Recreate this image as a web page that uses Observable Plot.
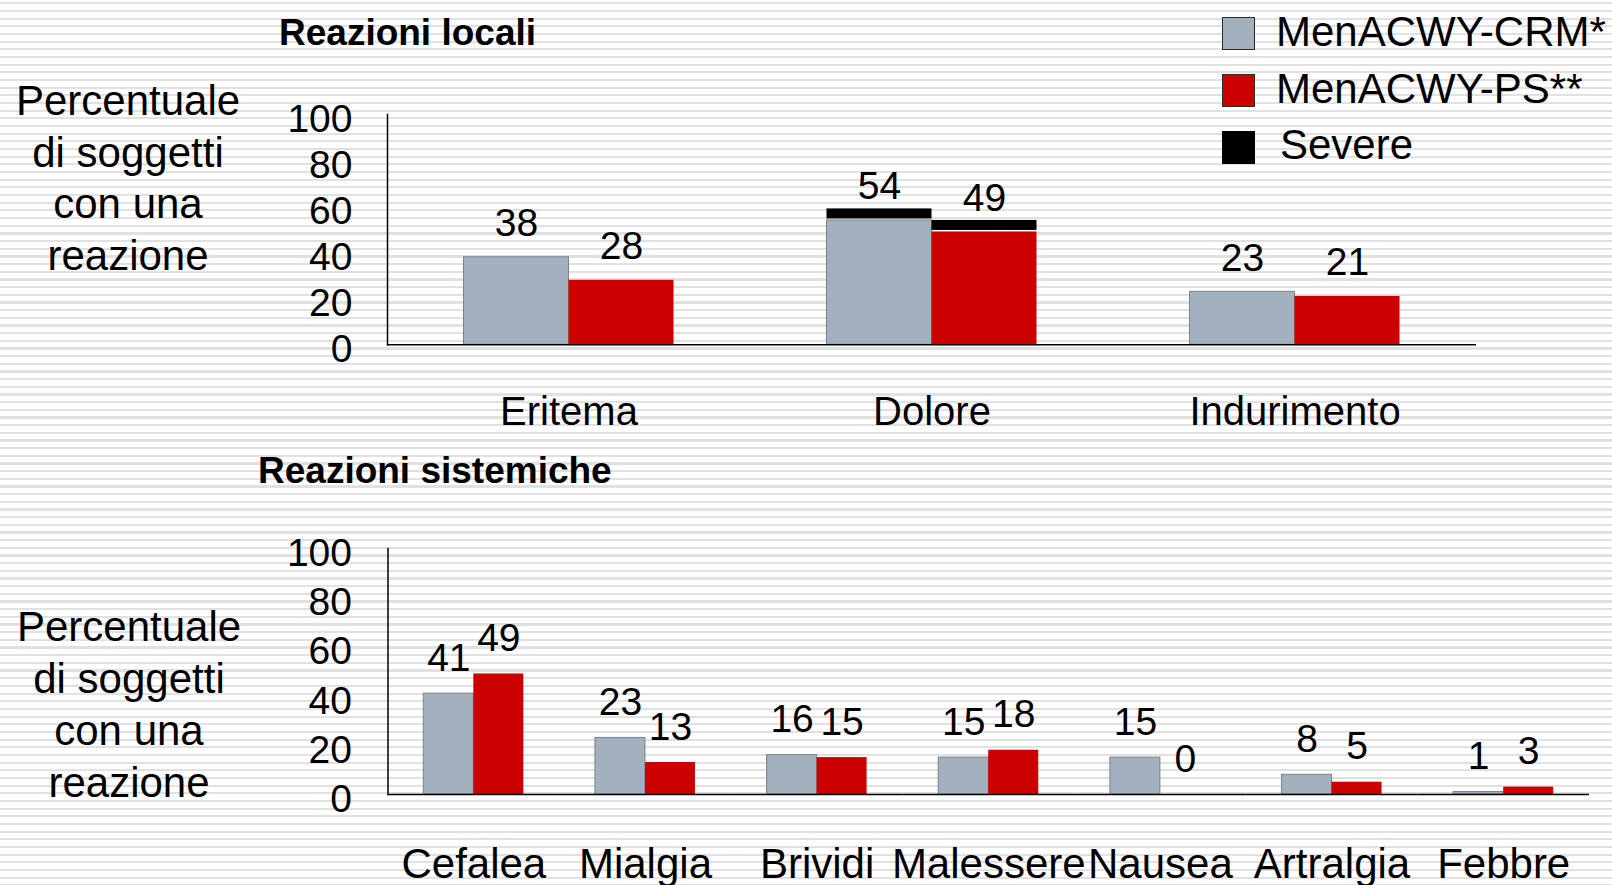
<!DOCTYPE html>
<html>
<head>
<meta charset="utf-8">
<script src="https://cdn.jsdelivr.net/npm/d3@7"></script>
<script src="https://cdn.jsdelivr.net/npm/@observablehq/plot@0.6"></script>
<style>
  html, body { margin: 0; padding: 0; }
  body {
    width: 1612px; height: 885px; overflow: hidden; position: relative;
    font-family: 'Liberation Sans', Arial, sans-serif; color: #000;
    background: repeating-linear-gradient(to bottom,
      #ffffff 0px, #ffffff 2.2px, #e1e1e1 2.2px, #e1e1e1 4.4px, #ffffff 4.4px, #ffffff 7.67px);
  }
  .abs { position: absolute; }
  .title { font-weight: bold; font-size: 37px; line-height: 1; white-space: nowrap; }
  .ytitle { font-size: 42px; text-align: center; width: 260px; }
  .leg-sq { position: absolute; width: 33px; height: 33px; box-sizing: border-box; }
  .leg-tx { position: absolute; font-size: 42px; line-height: 42px; white-space: nowrap; }
</style>
</head>
<body>
<div id="top" class="abs" style="left:0;top:0;"></div>
<div id="bottom" class="abs" style="left:0;top:440px;"></div>

<div class="abs title" style="left:279px;top:14px;">Reazioni locali</div>
<div class="abs title" style="left:258px;top:452px;">Reazioni sistemiche</div>

<div class="abs ytitle" style="left:-2px;top:75px;line-height:51.5px;">Percentuale<br>di soggetti<br>con una<br>reazione</div>
<div class="abs ytitle" style="left:-1px;top:601px;line-height:52px;">Percentuale<br>di soggetti<br>con una<br>reazione</div>

<div id="legend"></div>

<script>
// ---- data ----
const series = ["MenACWY-CRM*", "MenACWY-PS**"];
const severeLabel = "Severe";
const colors = ["#A3B0BE", "#CC0000"];

const localCats = ["Eritema", "Dolore", "Indurimento"];
const localCRM = [38, 54, 23];
const localPS = [28, 49, 21];
const localSevereCRM = [0, 5, 0];
const localSeverePS = [0, 5, 0];

const sysCats = ["Cefalea", "Mialgia", "Brividi", "Malessere", "Nausea", "Artralgia", "Febbre"];
const sysCRM = [41, 23, 16, 15, 15, 8, 1];
const sysPS = [49, 13, 15, 18, 0, 5, 3];

const yTicks = [0, 20, 40, 60, 80, 100];

// ---- build tables ----
function rowsFrom(cats, a, b, sa, sb) {
  const rows = [];
  cats.forEach((c, i) => {
    rows.push({cat: c, series: series[0], value: a[i], severe: sa ? sa[i] : 0});
    rows.push({cat: c, series: series[1], value: b[i], severe: sb ? sb[i] : 0});
  });
  return rows;
}
const localRows = rowsFrom(localCats, localCRM, localPS, localSevereCRM, localSeverePS);
const sysRows = rowsFrom(sysCats, sysCRM, sysPS);

const FONT = "'Liberation Sans', Arial, sans-serif";

function makeChart(rows, cats, cfg) {
  return Plot.plot({
    width: 1612,
    height: cfg.height,
    marginLeft: cfg.marginLeft,
    marginRight: cfg.marginRight,
    marginTop: cfg.marginTop,
    marginBottom: cfg.marginBottom,
    style: {background: "transparent", fontFamily: FONT, color: "#000", overflow: "visible"},
    fx: {domain: cats, paddingInner: 0, paddingOuter: 0, round: false, label: null},
    x: {domain: series, paddingInner: 0, paddingOuter: cfg.padOuter, round: false, axis: null},
    y: {domain: [0, 100], axis: null},
    marks: [
      Plot.barY(rows, {fx: "cat", x: "series", y: "value",
        filter: d => d.series === series[0], fill: colors[0], stroke: "#76828F", strokeWidth: 1}),
      Plot.barY(rows, {fx: "cat", x: "series", y: "value",
        filter: d => d.series === series[1], fill: colors[1]}),
      Plot.barY(rows, {fx: "cat", x: "series", y1: "value", y2: d => d.value + d.severe,
        filter: d => d.severe > 0, fill: "#000", insetBottom: 1.5}),
      Plot.text(rows, {fx: "cat", x: "series", y: "value", text: d => String(d.value),
        lineAnchor: "bottom", dy: cfg.valueDy, fontSize: cfg.valueSize, fill: "#000"}),
      Plot.ruleY([0], {stroke: "#000", strokeWidth: 1.5}),
      Plot.frame({anchor: "left", facetAnchor: "left", stroke: "#000", strokeWidth: 1.5}),
      Plot.axisY({ticks: yTicks, tickSize: 0, tickPadding: cfg.yPad, fontSize: cfg.tickSize,
        dy: 5, label: null, fill: "#000"}),
      Plot.axisFx({anchor: "bottom", tickSize: 0, tickPadding: cfg.catPad, fontSize: cfg.catSize,
        label: null, fill: "#000"})
    ]
  });
}

document.getElementById("top").appendChild(makeChart(localRows, localCats, {
  height: 440, marginLeft: 387, marginRight: 136, marginTop: 114, marginBottom: 95.7,
  padOuter: 0.7286, valueSize: 39, valueDy: -21, tickSize: 39, catSize: 40, catPad: 52, yPad: 35
}));

document.getElementById("bottom").appendChild(makeChart(sysRows, sysCats, {
  height: 445, marginLeft: 387.5, marginRight: 23, marginTop: 108, marginBottom: 91,
  padOuter: 0.716, valueSize: 39, valueDy: -23, tickSize: 39, catSize: 42, catPad: 54, yPad: 36
}));

// ---- legend ----
const legend = document.getElementById("legend");
const legItems = [
  {label: series[0], fill: colors[0], stroke: "#2b2b2b", sqTop: 17, txTop: 11, tx: 1276},
  {label: series[1], fill: colors[1], stroke: "#2b2b2b", sqTop: 74, txTop: 68, tx: 1276},
  {label: severeLabel, fill: "#000", stroke: "#000", sqTop: 131, txTop: 124, tx: 1280}
];
legItems.forEach(it => {
  const sq = document.createElement("div");
  sq.className = "leg-sq";
  sq.style.left = "1222px";
  sq.style.top = it.sqTop + "px";
  sq.style.background = it.fill;
  sq.style.border = "1.5px solid " + it.stroke;
  legend.appendChild(sq);
  const tx = document.createElement("div");
  tx.className = "leg-tx";
  tx.style.left = it.tx + "px";
  tx.style.top = it.txTop + "px";
  tx.textContent = it.label;
  legend.appendChild(tx);
});
</script>
</body>
</html>
